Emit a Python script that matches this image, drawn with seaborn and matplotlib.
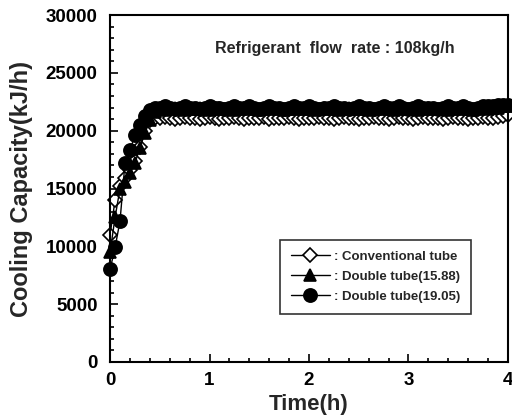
import numpy as np
import pandas as pd
import matplotlib
matplotlib.use("Agg")
import matplotlib.pyplot as plt
from matplotlib.ticker import MultipleLocator
import seaborn as sns

# time axis (h), one reading every 0.05 h
time_h = [0.00, 0.05, 0.10, 0.15, 0.20, 0.25, 0.30, 0.35, 0.40, 0.45,
          0.50, 0.55, 0.60, 0.65, 0.70, 0.75, 0.80, 0.85, 0.90, 0.95,
          1.00, 1.05, 1.10, 1.15, 1.20, 1.25, 1.30, 1.35, 1.40, 1.45,
          1.50, 1.55, 1.60, 1.65, 1.70, 1.75, 1.80, 1.85, 1.90, 1.95,
          2.00, 2.05, 2.10, 2.15, 2.20, 2.25, 2.30, 2.35, 2.40, 2.45,
          2.50, 2.55, 2.60, 2.65, 2.70, 2.75, 2.80, 2.85, 2.90, 2.95,
          3.00, 3.05, 3.10, 3.15, 3.20, 3.25, 3.30, 3.35, 3.40, 3.45,
          3.50, 3.55, 3.60, 3.65, 3.70, 3.75, 3.80, 3.85, 3.90, 3.95, 4.00]

# cooling capacity (kJ/h)
conventional = [11000, 14000, 15200, 15900, 16600, 17400, 18600, 20000, 20900, 21100,
                21100, 21200, 21100, 21000, 21100, 21200, 21100, 21100, 21000, 21100,
                21200, 21100, 21000, 21100, 21100, 21200, 21100, 21000, 21100, 21100,
                21100, 21200, 21000, 21100, 21100, 21100, 21200, 21100, 21000, 21100,
                21100, 21100, 21200, 21100, 21100, 21000, 21100, 21200, 21100, 21100,
                21000, 21100, 21100, 21200, 21100, 21100, 21000, 21100, 21200, 21100,
                21100, 21000, 21100, 21200, 21100, 21100, 21100, 21000, 21100, 21200,
                21100, 21100, 21000, 21100, 21100, 21200, 21100, 21100, 21200, 21300, 21400]

double_1588 = [9500, 12500, 15000, 15600, 16300, 17200, 18500, 19800, 20900, 21600,
               21900, 21800, 21900, 22000, 21900, 21800, 21900, 21900, 22000, 21900,
               21800, 21900, 22000, 21900, 21900, 21800, 21900, 22000, 21900, 21900,
               21800, 21900, 21900, 22000, 21900, 21800, 21900, 21900, 22000, 21900,
               21900, 21800, 21900, 22000, 21900, 21900, 21800, 21900, 22000, 21900,
               21900, 21900, 21800, 21900, 22000, 21900, 21900, 21800, 21900, 22000,
               21900, 21900, 21800, 21900, 22000, 21900, 21900, 21900, 21800, 21900,
               22000, 21900, 21900, 21800, 21900, 22000, 21900, 22000, 22000, 22100, 22100]

double_1905 = [8000, 9900, 12200, 17200, 18300, 19600, 20500, 21300, 21800, 22000,
               22000, 22100, 22000, 21900, 22000, 22100, 22000, 22000, 21900, 22000,
               22100, 22000, 22000, 21900, 22000, 22100, 22000, 22000, 22100, 22000,
               21900, 22000, 22100, 22000, 22000, 21900, 22000, 22100, 22000, 22000,
               22100, 22000, 21900, 22000, 22000, 22100, 22000, 22000, 21900, 22000,
               22100, 22000, 22000, 21900, 22000, 22100, 22000, 22000, 22100, 22000,
               21900, 22000, 22100, 22000, 22000, 22000, 21900, 22000, 22100, 22000,
               22000, 22100, 22000, 21900, 22000, 22100, 22100, 22100, 22200, 22200, 22200]

sns.set_style("ticks")
plt.rcParams['font.family'] = ['Liberation Sans', 'DejaVu Sans']
plt.rcParams['font.weight'] = 'bold'

fig = plt.figure(figsize=(5.12, 4.18), dpi=100)
ax = fig.add_axes([0.215, 0.134, 0.777, 0.830])

series = [
    (conventional, ': Conventional tube', 'D', 'white', 7.5),
    (double_1588, ': Double tube(15.88)', '^', 'black', 9),
    (double_1905, ': Double tube(19.05)', 'o', 'black', 9.5),
]
for vals, lab, mk, fc, ms in series:
    sns.lineplot(x=time_h, y=vals, ax=ax, color='black', lw=1.0,
                 marker=mk, markersize=ms, markerfacecolor=fc,
                 markeredgecolor='black', markeredgewidth=1.2,
                 label=lab, clip_on=False)

ax.set_xlim(0, 4)
ax.set_ylim(0, 30000)
ax.xaxis.set_major_locator(MultipleLocator(1))
ax.xaxis.set_minor_locator(MultipleLocator(0.2))
ax.yaxis.set_major_locator(MultipleLocator(5000))
ax.yaxis.set_minor_locator(MultipleLocator(1000))
ax.tick_params(which='both', direction='in', width=1.2, labelsize=13.5, colors='black')
ax.tick_params(which='major', length=6)
ax.tick_params(which='minor', length=3)
ax.tick_params(axis='y', which='major', pad=9)
ax.tick_params(axis='x', which='major', pad=7)
for s in ax.spines.values():
    s.set_linewidth(1.5)
    s.set_color('black')

ax.set_xlabel('Time(h)', fontsize=16, fontweight='bold', labelpad=4)
ax.set_ylabel('Cooling Capacity(kJ/h)', fontsize=17, fontweight='bold', labelpad=9)

ax.text(0.566, 0.905, 'Refrigerant  flow  rate : 108kg/h', transform=ax.transAxes,
        ha='center', va='center', fontsize=11.5, fontweight='bold')

leg = ax.legend(loc='upper left', bbox_to_anchor=(0.427, 0.352), frameon=True,
                fancybox=False, edgecolor='black', fontsize=9.5, handlelength=3.0,
                borderpad=0.8, labelspacing=0.6, handletextpad=0.3, borderaxespad=0)
leg.get_frame().set_linewidth(1.2)

fig.savefig('out.png', dpi=100)
